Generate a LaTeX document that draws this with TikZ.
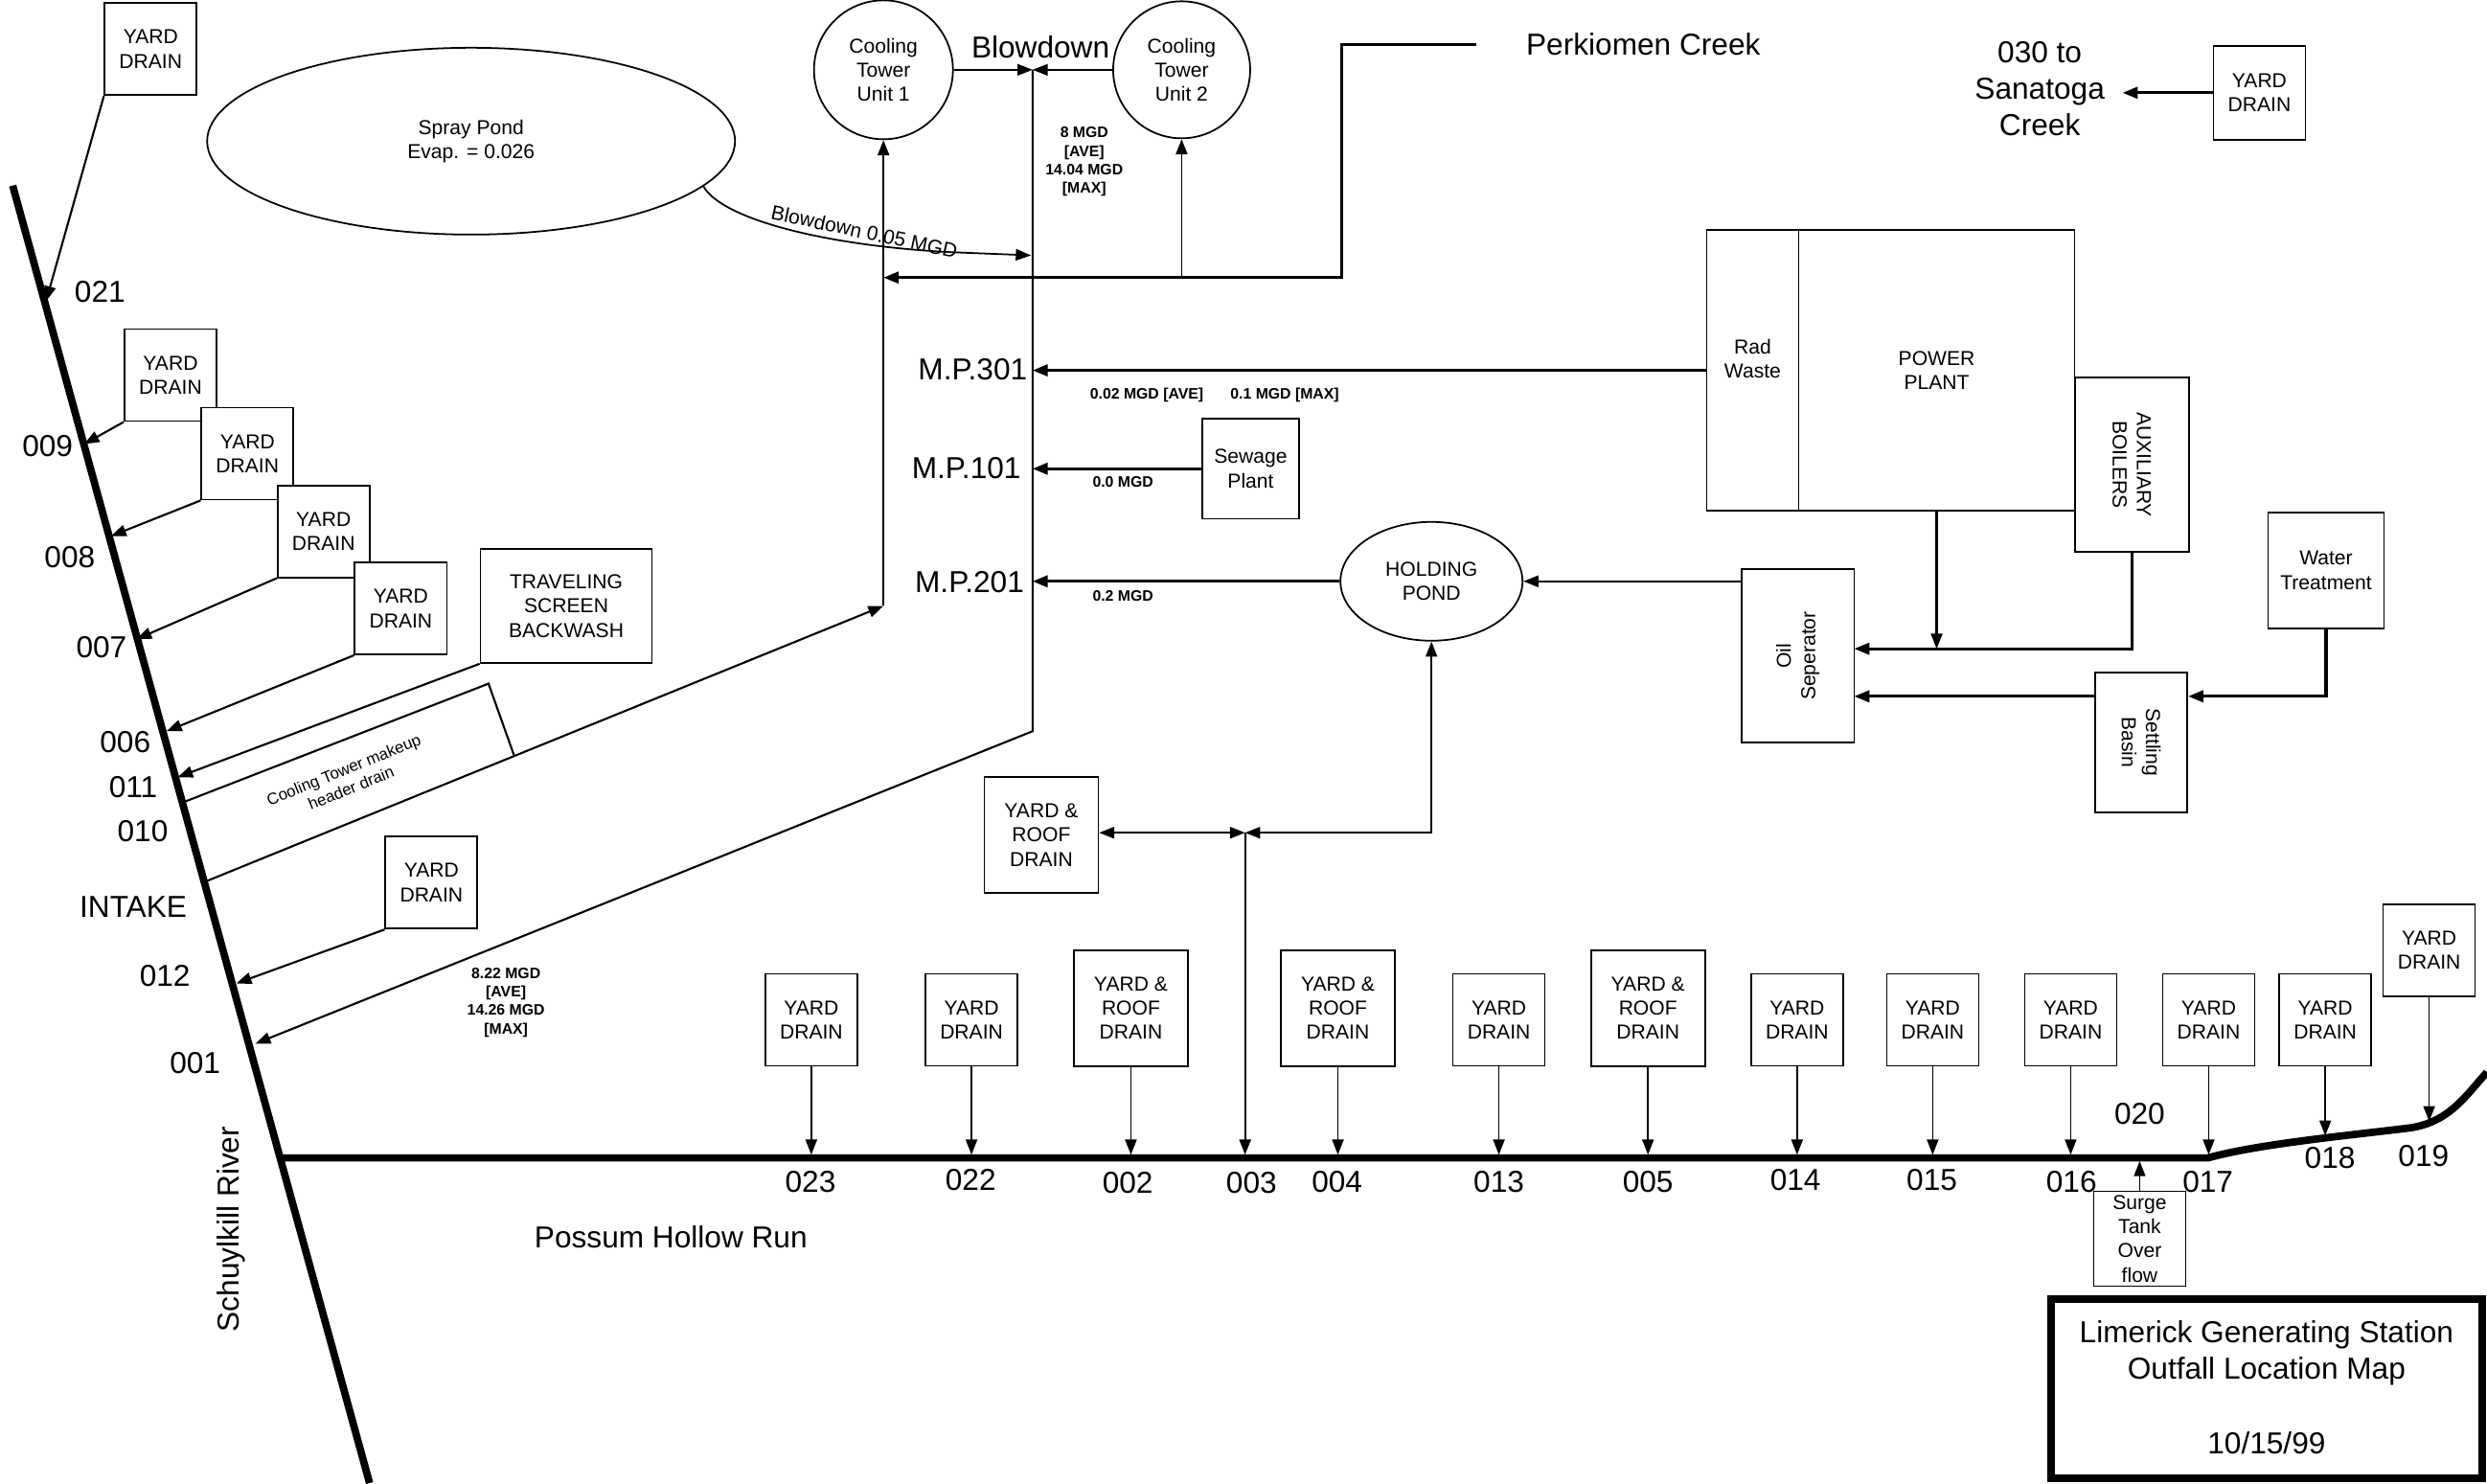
\documentclass[tikz,border=0pt]{standalone}
\usepackage{fontspec}
\setmainfont{Liberation Sans}
\usetikzlibrary{arrows.meta,shapes.geometric}
\newcommand{\bigf}{\fontsize{9}{10.8}\selectfont}
\newcommand{\boxf}{\fontsize{6}{7.2}\selectfont}
\newcommand{\ratef}{\bfseries\fontsize{4.5}{5.5}\selectfont}
\newcommand{\notef}{\fontsize{4.8}{5.8}\selectfont}

\begin{document}
\begin{tikzpicture}[
        x=0.016556cm, y=-0.016556cm,
        >={Triangle[length=4.5pt,width=3.4pt]},
        box/.style={draw, fill=white, line width=0.5pt, inner sep=0pt, align=center, font=\boxf},
        yd/.style={box, minimum width=0.96cm, minimum height=0.96cm},
        yrd/.style={box, minimum width=1.19cm, minimum height=1.21cm},
        pond/.style={draw, line width=0.5pt, inner sep=0pt, align=center, font=\boxf},
        tag/.style={inner sep=0pt, font=\bigf},
        txt/.style={inner sep=0pt, align=center, font=\boxf},
        rate/.style={inner sep=0pt, align=center, font=\ratef},
        feed/.style={->, line width=0.6pt},
        main/.style={->, line width=0.9pt},
        drop/.style={->, line width=0.5pt},
        stream/.style={line width=2.2pt}
    ]
        \useasboundingbox (0,0) rectangle (1568,935);
        % rios
        \coordinate (rtop) at (8,117);
        \coordinate (rbot) at (233,935);
        \coordinate (pstart) at (176.6,730);
        \coordinate (pend) at (1392,730);
        \coordinate (pl) at (0,728);
        \coordinate (plb) at (0,732);
        \draw[stream] (rtop) -- (rbot);
        \draw[stream] (pstart) -- (pend) .. controls (1425,721) and (1480,716) .. (1520,711)
            .. controls (1545,707) and (1555,690) .. (1568,676);
        \node[tag, rotate=90] at (146,775) {Schuylkill River};
        \node[tag] at (423,780) {Possum Hollow Run};
        % puntos en el rio
        \coordinate (r021) at (29,190);
        \coordinate (r009) at (53,280);
        \coordinate (r008) at (70,338);
        \coordinate (r007) at (86,403);
        \coordinate (r006) at (105,461);
        \coordinate (r011) at (112,490);
        \coordinate (r011b) at (115,506);
        \coordinate (r010) at (129,556);
        \coordinate (r012) at (149,620);
        \coordinate (r001) at (161,658);
        % drenajes izquierda
        \node (ydA) [yd] at (95,31) {YARD\\DRAIN};
        \node (ydB) [yd] at (107.5,236.5) {YARD\\DRAIN};
        \node (ydC) [yd] at (156,286) {YARD\\DRAIN};
        \node (ydD) [yd] at (204,335) {YARD\\DRAIN};
        \node (ydE) [yd] at (252.7,383.6) {YARD\\DRAIN};
        \node (tsb) [box, minimum width=1.79cm, minimum height=1.19cm] at (357,382) {TRAVELING\\SCREEN\\BACKWASH};
        \node (ydF) [yd] at (272,556.5) {YARD\\DRAIN};
        \draw[feed] (ydA.south west) -- (r021);
        \draw[feed] (ydB.south west) -- (r009);
        \draw[feed] (ydC.south west) -- (r008);
        \draw[feed] (ydD.south west) -- (r007);
        \draw[feed] (ydE.south west) -- (r006);
        \draw[feed] (tsb.south west) -- (r011);
        \draw[feed] (ydF.south west) -- (r012);
        \node[tag] at (63,184) {021};
        \node[tag] at (30,281) {009};
        \node[tag] at (44,351) {008};
        \node[tag] at (64,408) {007};
        \node[tag] at (79,468) {006};
        \node[tag] at (84,496) {011};
        \node[tag] at (90,524) {010};
        \node[tag] at (84,572) {INTAKE};
        \node[tag] at (104,615) {012};
        \node[tag] at (123,670) {001};
        % torres de enfriamiento
        \node (spray) [pond, ellipse, minimum width=5.51cm, minimum height=1.95cm] at (297,89) {Spray Pond\\Evap. = 0.026};
        \node (ct1) [pond, circle, minimum size=1.45cm] at (557,44) {Cooling\\Tower\\Unit 1};
        \node (ct2) [pond, circle, minimum size=1.43cm] at (745,44) {Cooling\\Tower\\Unit 2};
        \coordinate (bd) at (651,44);
        \coordinate (mpj) at (651,461);
        \coordinate (mk) at (557,382);
        \coordinate (hd1) at (308,431);
        \coordinate (hd2) at (324,476);
        \coordinate (bdin) at (650,161);
        \node[tag] at (656,30) {Blowdown};
        \draw[drop] (ct1.east) -- (bd);
        \draw[drop] (ct2.west) -- (bd);
        \draw[feed] (bd) -- (mpj) -- (r001);
        \node[rate] at (683.6,102) {8 MGD\\{[AVE]}\\14.04 MGD\\{[MAX]}};
        \node[rate] at (319,632) {8.22 MGD\\{[AVE]}\\14.26 MGD\\{[MAX]}};
        \draw[feed] (r010) -- (mk);
        \draw[feed] (mk) -- (ct1.south);
        \draw[line width=0.6pt] (r011b) -- (hd1) -- (hd2);
        \node[inner sep=0pt, align=center, font=\notef, rotate=22] at (219,491) {Cooling Tower makeup\\header drain};
        \draw[drop] (spray.-11) .. controls (455,138) and (520,155) .. (600,159) -- (bdin);
        \node[txt, rotate=-12] at (545,146) {Blowdown 0.05 MGD};
        % Perkiomen
        \node (perk) [tag, anchor=west, inner xsep=0.51cm] at (931,28) {Perkiomen Creek};
        \coordinate (pk1) at (846,28);
        \coordinate (pk2) at (846,175);
        \draw[main] (perk.west) -- (pk1) -- (pk2) -- (mk |- pk2);
        \draw[drop] (ct2.south |- pk2) -- (ct2.south);
        % Sanatoga
        \node (sana) [tag, align=center, inner xsep=0.18cm] at (1286,56) {030 to\\Sanatoga\\Creek};
        \node (ydS) [yd, minimum height=0.98cm] at (1424.5,58.5) {YARD\\DRAIN};
        \draw[main] (ydS.west) -- (ydS.west -| sana.east);
        % puntos de medida
        \node (mp301) [tag, anchor=east] at (648,233) {M.P.301};
        \node (mp101) [tag, anchor=east] at (644,295) {M.P.101};
        \node (mp201) [tag, anchor=east] at (646,367) {M.P.201};
        % planta
        \node (rad) [box, minimum width=0.96cm, minimum height=2.93cm] at (1105,233.5) {};
        \node[txt] at (1105,226) {Rad\\Waste};
        \node (pp) [box, minimum width=2.88cm, minimum height=2.93cm] at (1221,233.5) {POWER\\PLANT};
        \node (aux) [box, minimum width=1.19cm, minimum height=1.82cm] at (1344,293) {};
        \node[txt, rotate=-90] at (aux) {AUXILIARY\\BOILERS};
        \node (oil) [box, minimum width=1.175cm, minimum height=1.805cm] at (1133.5,413.5) {};
        \node[txt, rotate=90] at (oil) {Oil\\Seperator};
        \node (wt) [box, minimum width=1.21cm, minimum height=1.21cm] at (1466.5,359.5) {Water\\Treatment};
        \node (sb) [box, minimum width=0.96cm, minimum height=1.457cm] at (1350,468) {};
        \node[txt, rotate=-90] at (sb) {Settling\\Basin};
        \node (sew) [box, minimum width=1.01cm, minimum height=1.043cm] at (788.5,295.5) {Sewage\\Plant};
        \node (hold) [pond, ellipse, minimum width=1.90cm, minimum height=1.24cm] at (902.5,366.5) {HOLDING\\POND};
        \coordinate (oilA) at (1169,409);
        \coordinate (oilB) at (1169,439);
        \draw[main] (rad.west) -- (rad.west -| mpj);
        \node[rate] at (723,249) {0.02 MGD [AVE]};
        \node[rate] at (810,249) {0.1 MGD [MAX]};
        \draw[main] (sew.west) -- (sew.west -| mpj);
        \node[rate] at (708,304) {0.0 MGD};
        \draw[main] (hold.west) -- (hold.west -| mpj);
        \node[rate] at (708,376) {0.2 MGD};
        \draw[feed] (oil.west |- hold.east) -- (hold.east);
        \draw[feed] (pp.south) -- (pp.south |- oilA);
        \draw[main] (aux.south) |- (oilA);
        \draw[main] (wt.south) |- (sb.east |- oilB);
        \draw[main] (sb.west |- oilB) -- (oilB);
        % drenaje intermedio
        \node (yrdM) [yrd] at (656.5,526.5) {YARD \&\\ROOF\\DRAIN};
        \coordinate (j003) at (785,525);
        \draw[<->, line width=0.6pt] (yrdM.east |- j003) -- (j003);
        \draw[<->, line width=0.6pt] (j003) -| (hold.south);
        \draw[feed] (j003) -- (j003 |- pl);
        % drenajes Possum Hollow
        \node (b023) [yd] at (511.5,643) {YARD\\DRAIN};
        \node (b022) [yd] at (612.5,643) {YARD\\DRAIN};
        \node (b002) [yrd] at (713,635.5) {YARD \&\\ROOF\\DRAIN};
        \node (b004) [yrd] at (843.5,635.5) {YARD \&\\ROOF\\DRAIN};
        \node (b013) [yd] at (945,643) {YARD\\DRAIN};
        \node (b005) [yrd] at (1039,635.5) {YARD \&\\ROOF\\DRAIN};
        \node (b014) [yd] at (1133,643) {YARD\\DRAIN};
        \node (b015) [yd] at (1218.5,643) {YARD\\DRAIN};
        \node (b016) [yd] at (1305.5,643) {YARD\\DRAIN};
        \node (b017) [yd] at (1392.5,643) {YARD\\DRAIN};
        \node (b018) [yd] at (1466,643) {YARD\\DRAIN};
        \node (b019) [yd] at (1531.5,599) {YARD\\DRAIN};
        \node (surge) [box, minimum width=0.96cm, minimum height=0.99cm] at (1349,781) {Surge\\Tank\\Over\\flow};
        \coordinate (c018) at (1466,716);
        \coordinate (c019) at (1531.5,707);
        \draw[drop] (b023.south) -- (b023.south |- pl);
        \draw[drop] (b022.south) -- (b022.south |- pl);
        \draw[drop] (b002.south) -- (b002.south |- pl);
        \draw[drop] (b004.south) -- (b004.south |- pl);
        \draw[drop] (b013.south) -- (b013.south |- pl);
        \draw[drop] (b005.south) -- (b005.south |- pl);
        \draw[drop] (b014.south) -- (b014.south |- pl);
        \draw[drop] (b015.south) -- (b015.south |- pl);
        \draw[drop] (b016.south) -- (b016.south |- pl);
        \draw[drop] (b017.south) -- (b017.south |- pl);
        \draw[drop] (b018.south) -- (c018);
        \draw[drop] (b019.south) -- (c019);
        \draw[drop] (surge.north) -- (surge.north |- plb);
        \node[tag] at (511,745) {023};
        \node[tag] at (612,744) {022};
        \node[tag] at (711,746) {002};
        \node[tag] at (789,746) {003};
        \node[tag] at (843,745) {004};
        \node[tag] at (945,745) {013};
        \node[tag] at (1039,745) {005};
        \node[tag] at (1132,744) {014};
        \node[tag] at (1218,744) {015};
        \node[tag] at (1306,745) {016};
        \node[tag] at (1392,745) {017};
        \node[tag] at (1469,730) {018};
        \node[tag] at (1528,729) {019};
        \node[tag] at (1349,702) {020};
        % titulo
        \node (title) [draw, line width=2.4pt, minimum width=4.50cm, minimum height=1.87cm] at (1429,875.5) {};
        \node[tag, align=center] at (1429,853) {Limerick Generating Station\\Outfall Location Map};
        \node[tag] at (1429,910) {10/15/99};
    \end{tikzpicture}
\end{document}
